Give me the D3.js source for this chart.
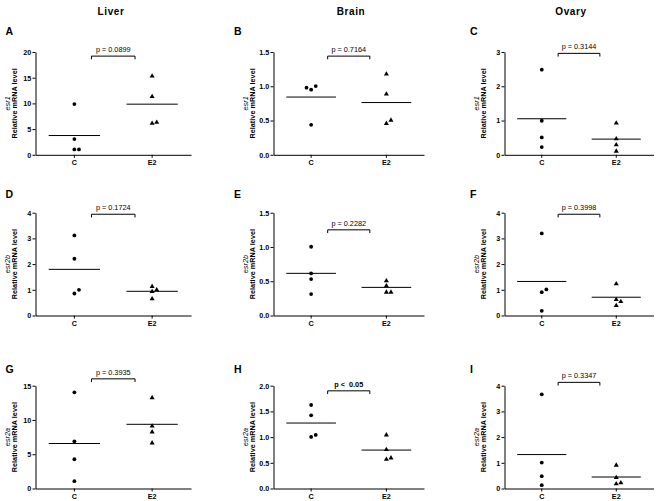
<!DOCTYPE html>
<html>
<head>
<meta charset="utf-8">
<script src="https://cdn.jsdelivr.net/npm/d3@7/dist/d3.min.js"></script>
<style>
  html, body { margin: 0; padding: 0; background: #fff; }
  svg { display: block; }
</style>
</head>
<body>
<script>
// ---- data ----
const tissues = ["Liver", "Brain", "Ovary"];
const genes = ["esr1", "esr2b", "esr2a"];
const groups = ["C", "E2"];
const panelLetters = ["A", "B", "C", "D", "E", "F", "G", "H", "I"];
const yMax = [20, 1.5, 3, 4, 1.5, 4, 15, 2, 4];
const yTicks = [
  [0, 5, 10, 15, 20], [0, 0.5, 1.0, 1.5], [0, 1, 2, 3],
  [0, 1, 2, 3, 4], [0, 0.5, 1.0, 1.5], [0, 1, 2, 3, 4],
  [0, 5, 10, 15], [0, 0.5, 1.0, 1.5, 2.0], [0, 1, 2, 3, 4]
];
const controlValues = [
  [9.87, 3.05, 1.04, 1.04],
  [0.95, 1.003, 0.979, 0.438],
  [2.484, 0.993, 0.506, 0.224],
  [3.117, 2.208, 0.857, 1.0],
  [1.003, 0.614, 0.531, 0.312],
  [3.195, 0.909, 1.013, 0.182],
  [14.03, 6.89, 4.27, 1.07],
  [1.625, 1.424, 1.003, 1.042],
  [3.663, 1.01, 0.479, 0.129]
];
const e2Values = [
  [15.4, 11.4, 6.2, 6.4],
  [1.184, 0.891, 0.463, 0.511],
  [0.935, 0.477, 0.302, 0.117],
  [0.948, 1.143, 0.662, 1.013],
  [0.511, 0.438, 0.346, 0.346],
  [1.247, 0.636, 0.558, 0.403],
  [13.3, 9.17, 8.3, 6.7],
  [1.049, 0.764, 0.576, 0.602],
  [0.919, 0.44, 0.194, 0.233]
];
const pLabels = ["p = 0.0899", "p = 0.7164", "p = 0.3144",
                 "p = 0.1724", "p = 0.2282", "p = 0.3998",
                 "p = 0.3935", "p <  0.05", "p = 0.3347"];
const pBold = [false, false, false, false, false, false, false, true, false];
const bracketLevels = [19.2, 1.44, 2.96, 3.94, 1.25, 3.94, 16.0, 1.9, 4.13];

// ---- layout ----
const W = 661, H = 501;
const FONT = "'Liberation Sans', Arial, Helvetica, sans-serif";
const colX0 = [35.5, 273.5, 504.5];
const colX1 = [191, 424, 653.5];
const rowTop = [52, 212.7, 385.7];
const plotH = 102.8;
const headerX = [111, 351, 571];
const letterX = [5.5, 234, 470];
const letterY = [34.8, 198, 372.5];

const svg = d3.select("body").append("svg")
  .attr("width", W).attr("height", H)
  .style("font-family", FONT);
svg.append("rect").attr("width", W).attr("height", H).attr("fill", "#fff");

// column headers
tissues.forEach((t, c) => {
  svg.append("text")
    .attr("x", headerX[c]).attr("y", 14.5)
    .attr("text-anchor", "middle")
    .attr("font-size", 10).attr("font-weight", "bold")
    .attr("letter-spacing", 0.6)
    .text(t);
});

const triangle = d3.symbol().type(d3.symbolTriangle).size(11);

function slotPositions(vals, y) {
  const placed = [];
  const seq = [0, 1, -1, 2, -2];
  return vals.map(v => {
    const py = y(v);
    let slot = 0;
    for (const s of seq) {
      const clash = placed.some(p => p.slot === s && Math.abs(p.py - py) < 4.2);
      if (!clash) { slot = s; break; }
    }
    placed.push({ slot, py });
    return { v, slot };
  });
}

for (let i = 0; i < 9; i++) {
  const row = Math.floor(i / 3), col = i % 3;
  const x0 = colX0[col], x1 = colX1[col], top = rowTop[row];
  const w = x1 - x0;
  const g = svg.append("g").attr("transform", `translate(${x0},${top})`);

  const y = d3.scaleLinear().domain([0, yMax[i]]).range([plotH, 0]);
  const x = d3.scaleBand().domain(groups).range([0, w]).padding(0);
  const fmt = yTicks[i].some(t => t % 1 !== 0) ? d3.format(".1f") : d3.format("d");

  // panel letter
  svg.append("text")
    .attr("x", letterX[col]).attr("y", letterY[row])
    .attr("font-size", 10.5).attr("font-weight", "bold")
    .text(panelLetters[i]);

  // axes
  const ya = g.append("g")
    .call(d3.axisLeft(y).tickValues(yTicks[i]).tickSize(3).tickSizeOuter(0).tickPadding(1.2).tickFormat(fmt));
  ya.attr("font-family", FONT).attr("font-size", 7.2).attr("font-weight", "bold");

  const xa = g.append("g").attr("transform", `translate(0,${plotH})`)
    .call(d3.axisBottom(x).tickSize(3).tickSizeOuter(0).tickPadding(2));
  xa.attr("font-family", FONT).attr("font-size", 7.2).attr("font-weight", "bold");

  // y label
  g.append("text")
    .attr("transform", `translate(-18.3,${plotH / 2}) rotate(-90)`)
    .attr("text-anchor", "middle")
    .attr("font-size", 7.3).attr("font-weight", "bold")
    .text("Relative mRNA level");
  g.append("text")
    .attr("transform", `translate(-25.8,${plotH / 2}) rotate(-90)`)
    .attr("text-anchor", "middle")
    .attr("font-size", 7.3).attr("font-style", "italic")
    .text(genes[row]);

  // points + mean lines
  groups.forEach(grp => {
    const vals = grp === "C" ? controlValues[i] : e2Values[i];
    const cx = x(grp) + x.bandwidth() / 2;
    const pts = slotPositions(vals, y);
    pts.forEach(p => {
      const px = cx + p.slot * 4.6;
      if (grp === "C") {
        g.append("circle").attr("cx", px).attr("cy", y(p.v)).attr("r", 1.9).attr("fill", "#000");
      } else {
        g.append("path").attr("d", triangle).attr("transform", `translate(${px},${y(p.v) + 0.4})`).attr("fill", "#000");
      }
    });
    const m = d3.mean(vals);
    const half = x.bandwidth() * 0.33;
    g.append("line")
      .attr("x1", cx - half).attr("x2", cx + half)
      .attr("y1", y(m)).attr("y2", y(m))
      .attr("stroke", "#000").attr("stroke-width", 1);
  });

  // significance bracket
  const by = y(bracketLevels[i]);
  const bl = w * 0.36, br = w * 0.64;
  g.append("path")
    .attr("d", `M${bl},${by + 3.2}V${by}H${br}V${by + 3.2}`)
    .attr("fill", "none").attr("stroke", "#000").attr("stroke-width", 1);
  g.append("text")
    .attr("x", w / 2).attr("y", by - 4)
    .attr("text-anchor", "middle")
    .attr("font-size", 7.3)
    .attr("font-weight", pBold[i] ? "bold" : "normal")
    .style("white-space", "pre")
    .text(pLabels[i]);
}
</script>
</body>
</html>
